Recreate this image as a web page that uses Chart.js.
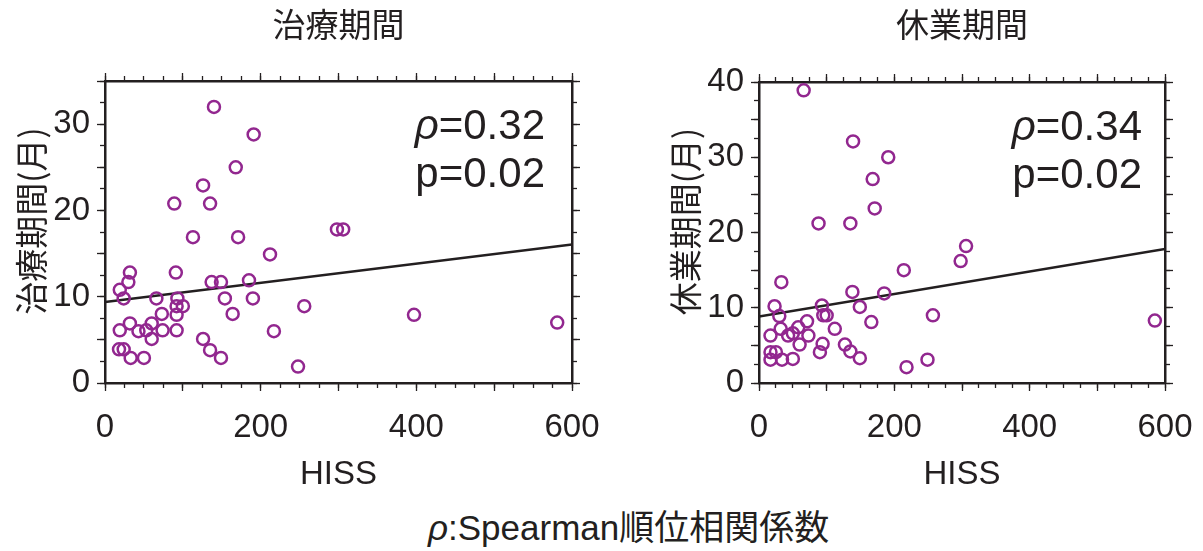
<!DOCTYPE html>
<html lang="ja">
<head>
<meta charset="utf-8">
<title>HISS と治療期間・休業期間</title>
<script src="https://cdn.jsdelivr.net/npm/chart.js@4.4.1/dist/chart.umd.min.js"></script>
<style>
  html, body { margin: 0; padding: 0; background: #fff; }
  #wrap { position: relative; width: 1203px; height: 551px; overflow: hidden; }
  #treatChart { position: absolute; left: 0; top: 0; }
  #leaveChart { position: absolute; left: 640px; top: 0; }
  #note {
    position: absolute; left: 428px; top: 508px;
    font: 35px 'Liberation Sans', 'Noto Sans CJK JP', sans-serif;
    line-height: 40px; color: #231f20; white-space: nowrap;
  }
  #note i { font-style: italic; }
</style>
</head>
<body>
<div id="wrap">
  <canvas id="treatChart" width="630" height="500"></canvas>
  <canvas id="leaveChart" width="563" height="500"></canvas>
  <div id="note"><i>ρ</i>:Spearman順位相関係数</div>
</div>
<script>
// left panel: HISS vs treatment period (months)
const hissTreat = [140, 191, 168, 126, 89, 135, 113, 171, 212, 32, 91, 30, 19, 137, 149, 185,
  24, 66, 93, 154, 190, 92, 100, 73, 92, 164, 256, 32, 60, 19, 43, 53, 74, 92, 217, 60, 126,
  18, 24, 135, 33, 50, 149, 248, 298, 306, 397, 581];
const monthsTreat = [32, 28.8, 25, 22.9, 20.8, 20.8, 16.9, 16.9, 14.9, 12.8, 12.8, 11.7, 10.8, 11.7, 11.7, 11.9,
  9.8, 9.8, 9.8, 9.8, 9.8, 8.9, 8.9, 8, 7.9, 8, 8.9, 6.9, 6.9, 6.1, 6, 6.1, 6.1, 6.1, 6, 5.1, 5.1,
  3.9, 3.9, 3.8, 2.9, 2.9, 2.9, 1.9, 17.8, 17.8, 7.9, 7];

// right panel: HISS vs time off work (months)
const hissLeave = [66, 139, 191, 168, 171, 88, 135, 306, 298, 214, 33, 138, 185, 23, 93, 149,
  30, 95, 100, 257, 71, 166, 58, 112, 32, 50, 43, 73, 17, 60, 94, 127, 135, 90, 17, 25,
  17, 34, 50, 149, 249, 218, 585];
const monthsLeave = [38.9, 32.1, 30, 27.1, 23.2, 21.2, 21.2, 18.2, 16.2, 15, 13.4, 12.1, 11.9, 10.2, 10.3, 10.1,
  8.9, 9, 9, 9, 8.2, 8.1, 7.4, 7.2, 7.2, 6.6, 6.3, 6.3, 6.3, 5.1, 5.2, 5.1, 4.2, 4.1, 4.1, 4.1,
  3.1, 3.1, 3.2, 3.3, 3.1, 2.1, 8.3];

// fitted line end points
const fitX = [0, 600];
const fitTreat = [9.4, 16.05];
const fitLeave = [8.85, 17.8];

// stats printed in the corner: rho, p
const statsTreat = ['0.32', '0.02'];
const statsLeave = ['0.34', '0.02'];

// axis labels
const xMax = 600;
const xLabels = [0, 200, 400, 600];
const yLabelsTreat = [0, 10, 20, 30];
const yLabelsLeave = [0, 10, 20, 30, 40];

const ink = '#231f20';
const purple = '#92278f';
const latin = "'Liberation Sans', Arial, sans-serif";
const cjk = "'Noto Sans CJK JP', sans-serif";

// rho / p text in the top right of the plot
const statsText = {
  id: 'statsText',
  afterDatasetsDraw(chart, args, opts) {
    const ctx = chart.ctx;
    const area = chart.chartArea;
    const x = area.right - opts.inset;
    ctx.save();
    ctx.fillStyle = ink;
    ctx.textAlign = 'right';
    ctx.textBaseline = 'alphabetic';
    ctx.font = '42px ' + latin;
    const rest = '=' + opts.values[0];
    ctx.fillText(rest, x, area.top + 58);
    const w = ctx.measureText(rest).width;
    ctx.fillText('p=' + opts.values[1], x, area.top + 106);
    ctx.font = 'italic 42px ' + latin;
    ctx.fillText('ρ', x - w, area.top + 58);
    ctx.restore();
  }
};

// one side of the frame; minor sides have no size and sit on the frame edge
function edge(axis, position, max, step, tickLen, size, ticks, title, titleShift) {
  const major = tickLen > 5;
  return {
    type: 'linear',
    axis: axis,
    position: position,
    min: 0,
    max: max,
    weight: major ? 0 : -1,
    border: { display: major, color: ink, width: 2.5 },
    grid: { drawOnChartArea: false, drawTicks: true, tickLength: tickLen, tickWidth: 1.3, tickColor: ink },
    ticks: ticks || { display: false, stepSize: step, autoSkip: false },
    title: title || { display: false },
    afterFit: function(scale) {
      if (axis === 'x') {
        scale.height = size;
      } else {
        scale.width = size;
      }
      // keep the plot box where it is, labels may hang over the edges
      scale.paddingLeft = scale.paddingRight = 0;
      scale.paddingTop = scale.paddingBottom = 0;
      if (titleShift && !scale._shifted) {
        const draw = scale.drawTitle;
        scale.drawTitle = function() {
          this.ctx.save();
          this.ctx.translate(0, titleShift);
          draw.call(this);
          this.ctx.restore();
        };
        scale._shifted = true;
      }
    }
  };
}

function makeChart(id, opt) {
  const ctx = document.getElementById(id).getContext('2d');
  const points = opt.xs.map((x, i) => ({ x: x, y: opt.ys[i] }));
  const fit = fitX.map((x, i) => ({ x: x, y: opt.fit[i] }));
  return new Chart(ctx, {
    type: 'scatter',
    data: {
      datasets: [{
        data: points,
        pointStyle: 'circle',
        pointRadius: 6,
        pointBorderWidth: 2.5,
        borderColor: purple,
        backgroundColor: 'rgba(0,0,0,0)'
      }, {
        type: 'line',
        data: fit,
        showLine: true,
        borderColor: ink,
        borderWidth: 2.5,
        pointRadius: 0,
        fill: false
      }]
    },
    plugins: [statsText],
    options: {
      responsive: false,
      animation: false,
      events: [],
      layout: { padding: { left: 0, right: opt.padRight, top: 0, bottom: 1 } },
      scales: {
        x: edge('x', 'bottom', xMax, 100, 8, 116, {
          display: true, stepSize: 100, autoSkip: false, maxRotation: 0, padding: 17,
          color: ink, font: { family: latin, size: 33 },
          callback: v => xLabels.includes(v) ? String(v) : ''
        }, {
          display: true, text: 'HISS', color: ink,
          font: { family: latin, size: 33 }, padding: { top: 0, bottom: 4 }
        }),
        xMinor: edge('x', 'bottom', xMax, 25, 5, 0),
        xTop: edge('x', 'top', xMax, 100, 8, 10),
        xTopMinor: edge('x', 'top', xMax, 25, 5, 0),
        y: edge('y', 'left', opt.yMax, 5, 8, opt.yWidth, {
          display: true, stepSize: 5, autoSkip: false, padding: 7,
          color: ink, font: { family: latin, size: 33 },
          callback: v => opt.yLabels.includes(v) ? String(v) : ''
        }, {
          display: true, text: opt.yTitle, color: ink,
          font: { family: cjk, size: 33 }, padding: { top: opt.yTitlePad, bottom: 0 }
        }, -11),
        yMinor: edge('y', 'left', opt.yMax, 2.5, 5, 0),
        yRight: edge('y', 'right', opt.yMax, 5, 8, 10),
        yRightMinor: edge('y', 'right', opt.yMax, 2.5, 5, 0)
      },
      plugins: {
        legend: { display: false },
        tooltip: { enabled: false },
        title: {
          display: true,
          text: opt.title,
          fullSize: false,
          color: ink,
          font: { family: cjk, size: 33, weight: 'normal' },
          padding: { top: 5, bottom: opt.titleGap }
        },
        statsText: { values: opt.stats, inset: opt.inset }
      }
    }
  });
}

makeChart('treatChart', {
  xs: hissTreat, ys: monthsTreat, fit: fitTreat, stats: statsTreat,
  title: '治療期間', yTitle: '治療期間(月)', yLabels: yLabelsTreat, yMax: 35,
  yWidth: 105, yTitlePad: 12, padRight: 48, titleGap: 26.4, inset: 27
});

makeChart('leaveChart', {
  xs: hissLeave, ys: monthsLeave, fit: fitLeave, stats: statsLeave,
  title: '休業期間', yTitle: '休業期間(月)', yLabels: yLabelsLeave, yMax: 40,
  yWidth: 119, yTitlePad: 26, padRight: 28, titleGap: 27.4, inset: 23
});
</script>
</body>
</html>
